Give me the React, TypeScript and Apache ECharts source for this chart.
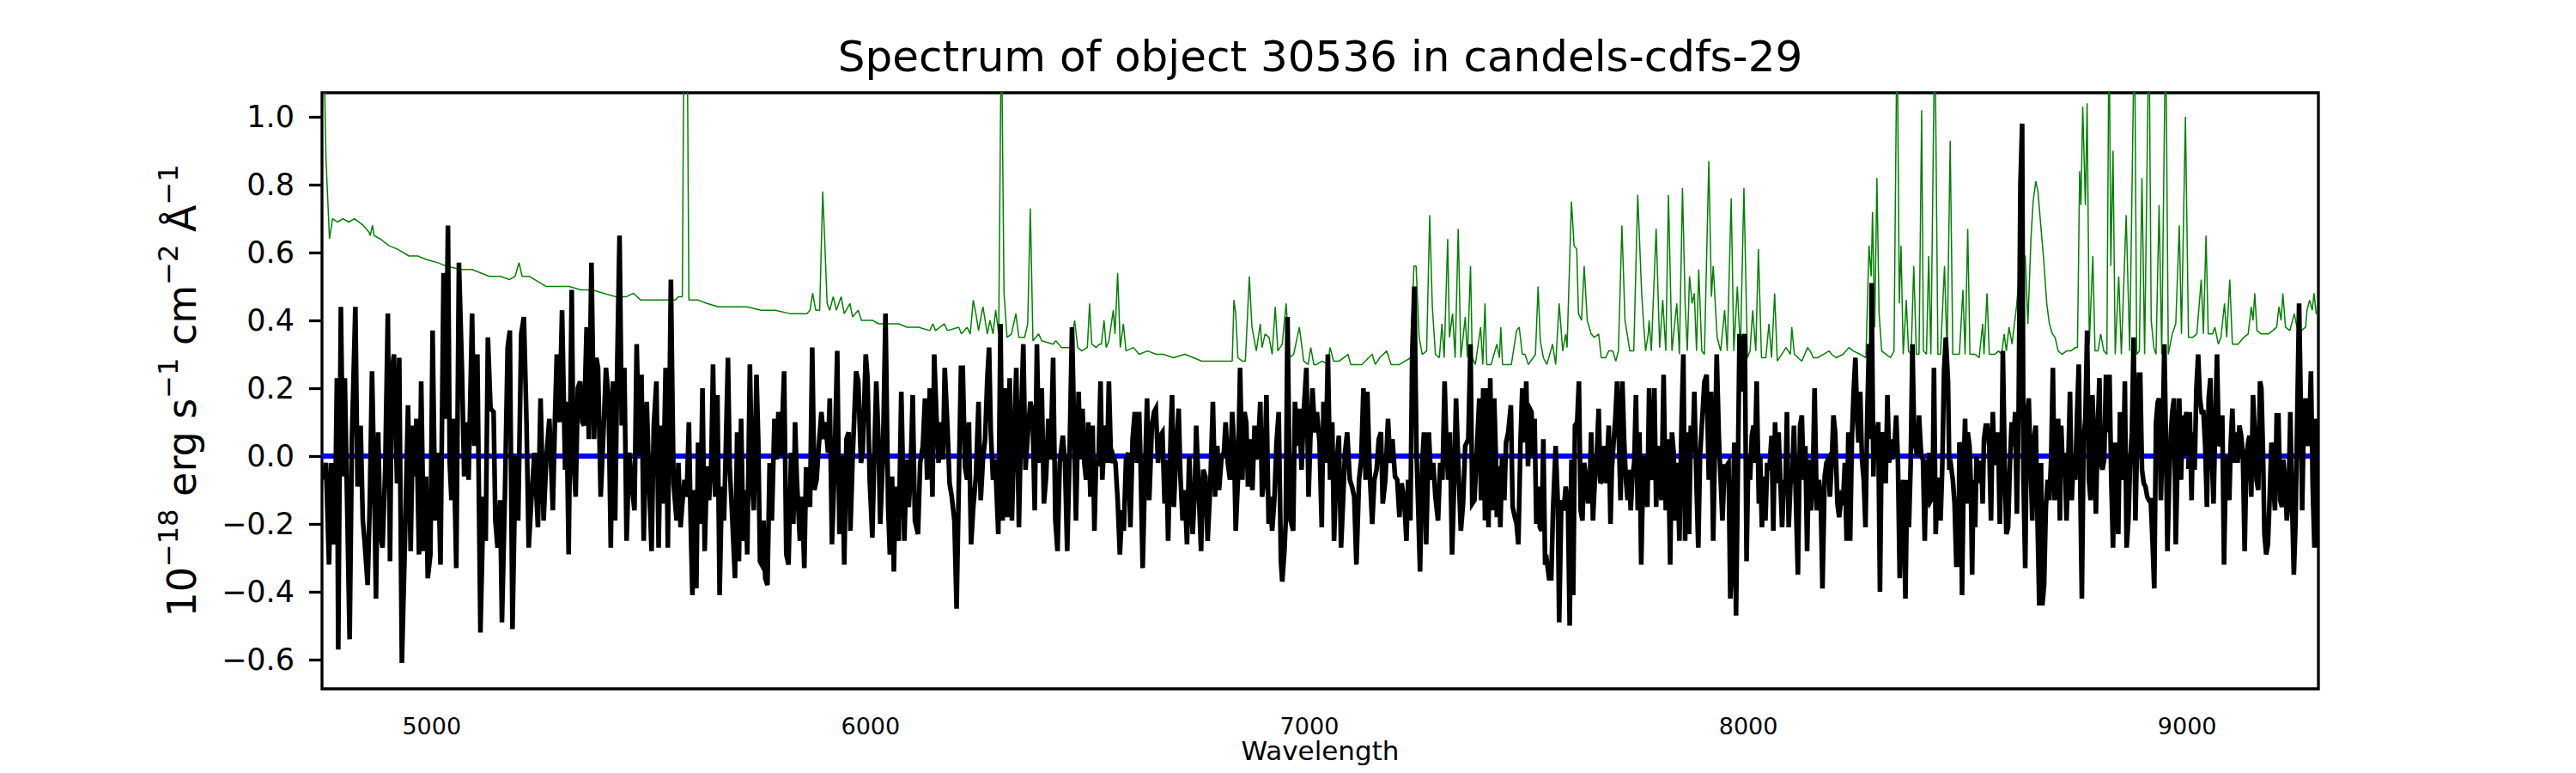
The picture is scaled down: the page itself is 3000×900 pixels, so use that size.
import React, { useEffect, useRef } from "react";
import * as echarts from "echarts";

const FONT = "DejaVu Sans";
const TITLE = "Spectrum of object 30536 in candels-cdfs-29";
const X_LABEL = "Wavelength";
const Y_LABEL_RICH = "{n|10}{s|−18}{n| erg s}{s|−1}{n| cm}{s|−2}{n| Å}{s|−1}";
const X_MIN = 4750;
const X_MAX = 9299;
const Y_MIN = -0.686;
const Y_MAX = 1.071;
const xTicks = [5000, 6000, 7000, 8000, 9000];
const yTicks = [-0.6, -0.4, -0.2, 0.0, 0.2, 0.4, 0.6, 0.8, 1.0];

// object flux (black), wavelength / flux pairs
const fluxA = [[4753,-0.07],[4759,-0.02],[4766,-0.32],[4771,-0.02],[4776,-0.26],[4780,-0.16],[4784,0.23],[4787,-0.57],[4793,0.44],[4798,-0.06],[4802,0.23],[4808,-0.19],[4813,-0.54],[4818,0.04],[4826,0.44],[4831,-0.09],[4838,0.09],[4843,-0.19],[4847,-0.25],[4854,-0.38],[4859,-0.13],[4864,0.25],[4869,-0.08],[4873,-0.42],[4878,0.07],[4883,-0.23],[4888,-0.27],[4894,-0.04],[4900,0.42],[4905,-0.31],[4909,0.25],[4914,0.30],[4921,-0.08],[4926,0.29],[4932,-0.61],[4939,-0.25],[4946,0.15],[4952,-0.28],[4957,0.09],[4961,-0.06],[4965,0.11],[4971,-0.29],[4976,0.22],[4982,-0.28],[4987,-0.06],[4991,-0.36],[4997,-0.29],[5002,0.37],[5008,-0.19],[5014,0.01],[5020,-0.32],[5027,0.54],[5032,0.11],[5037,0.68],[5041,-0.02],[5045,-0.13],[5049,0.11],[5056,-0.33],[5062,0.57],[5069,0.25],[5074,-0.06],[5079,0.10],[5084,-0.07],[5092,0.42],[5097,0.03],[5104,0.30],[5111,-0.52],[5118,-0.12],[5123,-0.25],[5128,0.35],[5134,0.14],[5141,0.13],[5145,-0.19],[5150,-0.27],[5156,-0.13],[5160,-0.49],[5167,-0.10],[5173,0.32],[5178,0.37],[5184,-0.51],[5191,0.00],[5197,-0.19],[5204,0.36],[5210,0.41],[5216,0.10],[5221,-0.27],[5227,-0.13],[5234,0.01],[5242,-0.21],[5248,0.17],[5255,-0.19],[5261,-0.01],[5268,0.11],[5276,-0.16],[5281,0.12],[5285,0.30],[5291,0.10],[5297,0.43],[5304,-0.04],[5307,0.16],[5312,-0.29],[5319,0.49],[5323,-0.01],[5328,-0.12],[5333,0.20],[5338,0.22],[5343,0.10],[5347,0.09],[5353,0.38],[5358,0.05],[5364,0.57],[5370,0.05],[5375,0.29],[5379,0.26],[5385,-0.12],[5392,0.09],[5397,0.26],[5403,0.17],[5408,-0.27],[5413,0.22],[5418,-0.19],[5423,0.29],[5428,0.65],[5433,0.09],[5439,0.26],[5444,-0.25],[5450,0.01],[5457,-0.10],[5462,-0.16],[5467,0.33],[5473,0.00],[5478,0.24],[5483,-0.25],[5490,0.16],[5496,-0.10],[5501,-0.28],[5506,0.09],[5512,0.22],[5517,-0.27],[5522,0.09],[5527,-0.14],[5533,0.26],[5538,-0.27],[5545,0.52],[5551,-0.08],[5558,-0.19]];
const fluxB = [[5562,-0.02],[5567,-0.21],[5571,-0.14],[5576,-0.07],[5581,-0.12],[5586,0.10],[5590,-0.19],[5594,-0.41],[5599,-0.10],[5603,-0.39],[5607,0.04],[5612,-0.20],[5617,0.20],[5622,-0.28],[5627,-0.03],[5632,-0.13],[5637,-0.02],[5641,0.27],[5646,-0.12],[5651,0.18],[5656,-0.41],[5661,-0.09],[5666,-0.19],[5671,0.07],[5675,0.29],[5679,-0.03],[5684,-0.16],[5691,-0.36],[5696,0.07],[5700,-0.31],[5705,0.11],[5710,-0.25],[5715,-0.10],[5719,-0.29],[5725,0.27],[5730,-0.08],[5734,-0.16],[5740,0.24],[5744,0.05],[5748,-0.31],[5752,-0.32],[5756,-0.19],[5760,-0.36],[5765,-0.38],[5770,-0.02],[5775,-0.19],[5781,0.11],[5786,-0.01],[5790,0.13],[5796,0.00],[5803,0.25],[5808,-0.29],[5813,-0.32],[5819,0.01],[5824,-0.20],[5828,0.10],[5832,-0.07],[5839,-0.25],[5844,-0.12],[5849,-0.33],[5853,-0.04],[5858,-0.04],[5862,-0.15],[5867,0.32],[5872,-0.10],[5877,-0.07],[5882,0.03],[5888,0.13],[5893,0.05],[5897,0.10],[5903,0.01],[5907,0.17],[5912,-0.26],[5917,-0.07],[5924,0.31],[5929,-0.23],[5935,0.00],[5940,-0.32],[5945,0.05],[5950,0.07],[5954,-0.22],[5959,-0.01],[5967,0.25],[5972,0.22],[5978,-0.02],[5982,0.01],[5989,0.30],[5993,0.23],[5998,-0.07],[6004,-0.24],[6008,-0.02],[6013,0.22],[6018,0.05],[6022,-0.20],[6028,-0.01],[6034,0.42],[6040,-0.15],[6044,-0.29],[6049,-0.06],[6053,-0.34],[6057,-0.09],[6064,-0.25],[6070,0.19],[6077,-0.25],[6082,-0.01],[6087,-0.15],[6091,-0.06],[6096,0.18],[6101,-0.19],[6108,-0.23],[6113,-0.02],[6119,0.03],[6124,0.17],[6129,-0.07],[6135,0.20],[6141,-0.12],[6145,0.30],[6150,0.12],[6155,-0.02],[6160,0.10],[6165,-0.01],[6169,0.26],[6175,0.09],[6180,-0.08],[6185,-0.12],[6191,-0.19],[6196,-0.45],[6202,-0.01],[6206,0.26],[6210,0.26],[6215,-0.03],[6220,-0.07],[6224,0.10],[6229,-0.26],[6234,-0.15],[6240,-0.06],[6246,0.16],[6251,-0.13],[6256,-0.01],[6261,0.05],[6266,0.23],[6270,0.32],[6274,0.07],[6279,-0.07],[6284,-0.01],[6291,-0.23],[6296,0.39],[6301,-0.19],[6306,0.20],[6311,-0.18],[6317,0.23],[6322,-0.19],[6327,0.05],[6332,0.26],[6338,-0.21],[6343,0.11],[6348,0.33],[6353,-0.04],[6358,0.06],[6364,0.16],[6369,0.13],[6374,-0.16],[6379,0.33],[6384,-0.02],[6390,0.20],[6395,-0.14],[6400,-0.06],[6405,0.11],[6410,-0.01],[6416,0.29],[6421,-0.19],[6426,-0.28],[6431,-0.02],[6438,0.06],[6443,-0.02],[6448,-0.28],[6453,-0.02],[6459,0.38]];
const fluxC = [[6468,-0.19],[6474,0.19],[6478,-0.01],[6483,0.14],[6487,-0.02],[6491,-0.07],[6496,0.10],[6501,-0.12],[6506,0.09],[6510,-0.22],[6514,-0.01],[6519,-0.03],[6524,0.22],[6528,-0.07],[6534,0.09],[6539,-0.02],[6543,0.22],[6548,-0.02],[6553,0.00],[6558,-0.02],[6563,-0.13],[6568,-0.29],[6573,-0.16],[6577,-0.22],[6582,-0.01],[6587,0.01],[6592,-0.21],[6597,0.05],[6602,0.13],[6607,-0.02],[6612,0.13],[6615,-0.01],[6620,-0.33],[6625,-0.06],[6630,0.17],[6635,-0.13],[6641,0.09],[6646,0.13],[6650,0.14],[6655,-0.02],[6660,0.06],[6665,0.07],[6670,-0.14],[6674,-0.01],[6678,-0.25],[6684,0.07],[6687,0.18],[6691,-0.15],[6697,0.03],[6702,0.14],[6706,-0.06],[6711,-0.19],[6716,-0.10],[6721,-0.26],[6726,0.00],[6729,-0.10],[6734,-0.23],[6739,-0.09],[6742,0.09],[6747,-0.08],[6753,-0.28],[6758,-0.04],[6763,-0.06],[6768,-0.25],[6774,-0.09],[6780,0.16],[6785,-0.12],[6790,0.03],[6794,-0.10],[6800,0.00],[6805,0.01],[6809,0.10],[6814,-0.02],[6819,-0.07],[6824,0.13],[6828,0.04],[6832,-0.22],[6837,-0.07],[6842,0.26],[6847,-0.07],[6852,0.13],[6856,0.10],[6860,-0.09],[6865,0.05],[6870,-0.10],[6875,0.09],[6879,-0.01],[6884,0.05],[6888,0.16],[6892,-0.12],[6897,-0.07],[6902,0.18],[6907,-0.20],[6910,-0.12],[6915,-0.22],[6920,-0.13],[6925,0.04],[6930,0.13],[6935,-0.31],[6938,-0.37],[6943,-0.28],[6946,-0.19],[6950,0.41],[6954,0.01],[6957,-0.19],[6963,-0.22],[6967,0.16],[6972,0.03],[6977,0.14],[6982,-0.04],[6987,0.13],[6993,0.26],[6998,-0.12],[7002,0.05],[7007,0.20],[7012,0.07],[7017,0.13],[7023,0.04],[7028,-0.21],[7032,0.16],[7037,-0.02],[7042,0.30],[7047,-0.07],[7052,0.10],[7056,-0.25],[7062,-0.02],[7067,0.06],[7072,-0.27],[7076,-0.15],[7081,0.01],[7086,0.07],[7092,-0.07],[7097,-0.09],[7102,-0.12],[7107,-0.32],[7113,-0.07],[7118,-0.01],[7123,0.20],[7128,-0.07],[7132,0.19],[7137,-0.04],[7143,-0.20],[7148,-0.07],[7153,-0.04],[7158,0.05],[7163,0.07],[7167,-0.14],[7173,-0.07],[7179,0.11],[7184,-0.02],[7189,0.05],[7195,-0.06],[7200,-0.07],[7205,-0.18],[7210,-0.08],[7216,-0.13],[7221,-0.25],[7225,-0.07],[7230,-0.19],[7234,0.29],[7239,0.50],[7244,0.01],[7248,-0.16],[7252,-0.34],[7257,-0.02],[7261,0.07],[7266,-0.26],[7272,0.07],[7277,-0.07],[7282,-0.02],[7287,-0.12],[7293,-0.19],[7298,-0.02],[7303,-0.07],[7308,0.22],[7312,0.04],[7316,-0.07],[7320,0.07],[7325,-0.29],[7330,-0.07],[7334,0.17],[7339,-0.02],[7345,-0.22],[7350,-0.14],[7355,0.03],[7362,0.05],[7367,0.33],[7371,-0.14],[7376,-0.13]];
const fluxD = [[7387,0.17],[7391,-0.13],[7396,0.20],[7400,-0.19],[7404,0.20],[7408,-0.21],[7412,0.23],[7416,-0.16],[7421,0.17],[7425,-0.01],[7427,-0.18],[7431,-0.03],[7435,-0.21],[7439,0.00],[7444,-0.13],[7448,0.04],[7453,0.07],[7459,0.15],[7463,-0.15],[7468,-0.18],[7472,-0.20],[7476,-0.26],[7481,0.05],[7485,0.20],[7490,0.04],[7494,0.22],[7498,-0.03],[7502,0.14],[7506,0.13],[7509,0.00],[7513,0.11],[7517,-0.20],[7522,-0.09],[7525,-0.21],[7529,-0.22],[7533,0.05],[7537,-0.32],[7541,-0.31],[7546,-0.36],[7551,-0.36],[7555,-0.16],[7561,0.03],[7566,-0.14],[7569,-0.49],[7574,-0.13],[7579,-0.16],[7584,-0.09],[7589,-0.14],[7593,-0.50],[7597,-0.01],[7601,-0.41],[7605,0.09],[7610,0.10],[7614,0.22],[7618,-0.16],[7622,-0.19],[7626,-0.02],[7631,-0.07],[7635,-0.14],[7639,-0.07],[7642,0.07],[7646,-0.19],[7650,-0.08],[7654,-0.02],[7659,0.14],[7663,-0.08],[7667,-0.07],[7672,0.03],[7676,-0.08],[7682,0.09],[7686,-0.20],[7689,-0.04],[7693,0.04],[7697,0.11],[7701,0.22],[7705,0.05],[7709,-0.13],[7713,0.22],[7717,0.05],[7721,-0.07],[7725,-0.13],[7729,-0.04],[7732,-0.16],[7736,-0.06],[7740,-0.02],[7744,0.18],[7748,-0.16],[7752,0.07],[7756,-0.32],[7761,0.00],[7766,-0.07],[7770,-0.15],[7774,0.20],[7778,-0.04],[7782,-0.07],[7786,0.20],[7790,-0.15],[7794,0.03],[7798,-0.07],[7802,-0.13],[7807,0.24],[7812,-0.16],[7817,0.05],[7822,-0.32],[7826,0.07],[7830,0.01],[7834,-0.19],[7838,-0.02],[7843,-0.25],[7848,0.11],[7852,0.30],[7856,-0.25],[7861,0.07],[7865,-0.23],[7869,0.09],[7873,0.01],[7877,0.19],[7882,-0.09],[7886,-0.27],[7890,0.00],[7895,0.11],[7900,0.22],[7905,0.24],[7910,-0.07],[7915,0.19],[7920,-0.25],[7924,0.03],[7928,0.30],[7933,0.05],[7937,-0.07],[7941,-0.19],[7946,-0.03],[7950,-0.03],[7955,-0.02],[7959,-0.42],[7963,-0.31],[7968,0.04],[7972,-0.47],[7976,-0.07],[7980,0.36],[7985,0.19],[7988,0.32],[7992,0.36],[7996,-0.31],[8000,0.00],[8004,-0.07],[8008,0.06],[8012,0.09],[8015,-0.02],[8019,0.22],[8024,-0.14],[8027,0.00],[8031,-0.21],[8035,-0.06],[8039,-0.19],[8043,-0.02],[8048,-0.04],[8053,0.06],[8057,-0.22],[8061,0.10],[8065,-0.08],[8069,0.07],[8073,-0.07],[8077,-0.21],[8081,-0.08],[8085,-0.07],[8088,0.13],[8092,-0.21],[8096,-0.08],[8100,-0.07],[8104,0.09],[8109,-0.16],[8113,-0.35],[8118,0.09],[8122,0.12],[8126,-0.07],[8130,0.03],[8134,-0.28],[8138,-0.01],[8143,-0.16],[8147,-0.07],[8151,0.20],[8156,-0.16],[8161,-0.07],[8165,-0.12],[8169,-0.39],[8174,-0.06],[8178,-0.02],[8182,-0.01],[8186,-0.12],[8190,-0.02],[8194,0.12],[8198,0.07],[8203,-0.14],[8207,-0.18],[8212,-0.12],[8216,-0.13],[8220,-0.02],[8224,-0.25],[8228,0.07],[8232,-0.25],[8236,0.05],[8240,0.19],[8244,0.29],[8248,0.11],[8251,0.04],[8255,0.19],[8259,-0.01],[8263,-0.07],[8267,-0.21],[8271,0.12],[8275,0.33],[8279,0.05],[8281,0.51],[8285,-0.06],[8288,0.09],[8292,0.03],[8296,0.10],[8300,-0.40],[8304,0.07],[8308,0.05],[8313,-0.08],[8317,0.18],[8321,-0.02],[8324,0.05],[8328,-0.01],[8334,0.05],[8337,0.12],[8341,-0.02],[8345,-0.36],[8349,-0.12],[8353,-0.07],[8358,-0.42],[8362,-0.07],[8366,-0.21],[8370,-0.02],[8374,0.33],[8378,0.05]];
const fluxE = [[8385,0.00],[8389,0.12],[8394,0.00],[8398,-0.01],[8402,-0.25],[8406,-0.01],[8409,-0.15],[8412,0.01],[8416,-0.13],[8420,-0.12],[8423,0.26],[8427,-0.23],[8431,-0.07],[8434,-0.07],[8438,-0.19],[8442,-0.03],[8446,0.25],[8450,0.35],[8455,0.22],[8458,-0.04],[8462,-0.03],[8466,-0.07],[8470,-0.14],[8474,-0.32],[8479,-0.32],[8481,0.04],[8484,0.03],[8487,-0.41],[8491,-0.02],[8494,0.11],[8497,-0.14],[8500,0.07],[8504,0.03],[8507,-0.08],[8510,-0.35],[8513,-0.07],[8517,-0.21],[8520,0.00],[8523,-0.08],[8527,-0.02],[8531,-0.02],[8534,-0.14],[8537,0.05],[8541,0.09],[8545,0.09],[8549,0.03],[8553,-0.19],[8557,0.13],[8561,-0.02],[8565,-0.02],[8569,0.07],[8573,-0.20],[8577,-0.02],[8580,0.31],[8584,-0.01],[8588,-0.23],[8592,-0.21],[8596,-0.03],[8600,0.10],[8604,0.03],[8608,0.13],[8612,-0.17],[8616,0.14],[8620,0.80],[8624,0.98],[8627,-0.07],[8631,-0.33],[8635,0.12],[8639,0.17],[8643,-0.01],[8647,-0.19],[8651,0.05],[8655,0.09],[8659,-0.19],[8663,-0.44],[8667,-0.02],[8670,-0.44],[8674,-0.38],[8678,-0.15],[8682,-0.07],[8686,-0.13],[8690,-0.01],[8694,0.26],[8698,-0.13],[8702,-0.07],[8706,0.11],[8710,-0.19],[8713,0.09],[8717,-0.06],[8721,0.01],[8725,-0.19],[8729,-0.02],[8733,0.19],[8737,-0.13],[8741,-0.01],[8745,-0.07],[8749,0.12],[8753,0.27],[8757,-0.14],[8760,-0.42],[8764,0.05],[8768,0.11],[8772,0.37],[8776,-0.07],[8780,-0.13],[8784,0.18],[8788,0.05],[8792,-0.17],[8796,0.07],[8800,0.23],[8803,-0.02],[8807,-0.04],[8811,-0.01],[8815,0.24],[8819,0.07],[8823,0.24],[8827,-0.07],[8831,-0.27],[8835,0.04],[8839,-0.14],[8843,-0.23],[8847,0.13],[8850,-0.02],[8854,-0.07],[8858,0.22],[8862,-0.27],[8866,-0.19],[8870,-0.02],[8874,0.07],[8878,0.35],[8882,-0.19],[8886,0.05],[8890,0.24],[8893,0.24],[8897,-0.04],[8901,-0.08],[8905,-0.09],[8909,-0.12],[8913,-0.13],[8917,-0.13],[8921,-0.25],[8925,-0.39],[8929,0.10],[8933,0.16],[8936,0.17],[8940,-0.13],[8944,0.05],[8948,0.33],[8952,0.01],[8955,-0.28],[8959,-0.07],[8963,0.07],[8966,0.13],[8970,0.17],[8974,-0.26],[8978,-0.02],[8982,0.17],[8986,-0.07],[8990,0.12],[8994,0.00],[8998,0.13],[9002,0.00],[9006,0.13],[9010,-0.13],[9013,0.07],[9017,-0.04],[9021,0.20],[9025,0.30],[9029,0.17],[9033,0.13],[9037,0.13],[9041,0.03],[9045,-0.15],[9049,0.17],[9053,0.23],[9056,0.01],[9060,-0.14],[9064,0.09],[9068,0.30],[9072,0.03],[9076,0.04],[9080,0.12],[9084,-0.32],[9088,-0.02],[9092,-0.01],[9096,-0.13],[9099,0.03],[9103,0.14],[9107,-0.02],[9111,0.07],[9115,-0.02],[9119,0.09],[9123,0.06],[9127,0.00],[9131,-0.28],[9135,0.00],[9139,0.04],[9142,0.06],[9146,-0.12],[9150,0.18],[9154,0.07],[9158,-0.07],[9162,-0.10],[9166,0.22],[9169,0.20],[9173,0.00],[9176,-0.23],[9180,-0.29],[9184,-0.26],[9188,-0.12],[9192,0.04],[9196,-0.07],[9200,-0.16],[9204,0.12],[9208,0.12],[9212,-0.13],[9216,-0.15],[9219,-0.01],[9223,-0.07],[9227,-0.19],[9231,-0.13],[9235,0.13],[9239,-0.13],[9243,-0.35],[9247,-0.19],[9251,0.13],[9255,0.45],[9259,0.14],[9262,-0.16],[9266,0.13],[9270,0.17],[9274,0.03],[9278,0.07],[9282,0.25],[9286,-0.09],[9290,-0.27],[9294,0.11],[9296,-0.27]];

// sky spectrum (green), wavelength / flux pairs; off-scale lines estimated at 1.3
const skyA = [[4753,1.3],[4759,0.88],[4767,0.64],[4774,0.70],[4785,0.69],[4798,0.70],[4811,0.69],[4824,0.70],[4844,0.68],[4857,0.66],[4860,0.65],[4865,0.68],[4869,0.65],[4883,0.64],[4903,0.62],[4922,0.61],[4948,0.59],[4968,0.59],[4987,0.58],[5014,0.57],[5033,0.56],[5066,0.55],[5092,0.55],[5131,0.53],[5157,0.53],[5177,0.52],[5190,0.53],[5199,0.57],[5206,0.53],[5222,0.53],[5248,0.51],[5261,0.50],[5281,0.50],[5313,0.50],[5340,0.49],[5366,0.49],[5392,0.48],[5418,0.47],[5444,0.47],[5460,0.48],[5476,0.46],[5509,0.46],[5535,0.46],[5555,0.46]];
const skyB = [[5562,0.47],[5571,0.47],[5575,1.3],[5582,1.3],[5586,0.46],[5594,0.46],[5607,0.46],[5627,0.45],[5653,0.44],[5692,0.44],[5718,0.44],[5751,0.43],[5783,0.43],[5816,0.42],[5855,0.42],[5862,0.43],[5868,0.48],[5875,0.43],[5884,0.43],[5891,0.78],[5895,0.65],[5901,0.45],[5907,0.43],[5915,0.47],[5922,0.43],[5933,0.47],[5940,0.42],[5953,0.45],[5959,0.41],[5972,0.43],[5979,0.40],[6005,0.40],[6018,0.39],[6044,0.39],[6064,0.39],[6083,0.38],[6109,0.38],[6135,0.37],[6142,0.39],[6148,0.37],[6168,0.39],[6175,0.37],[6201,0.38],[6207,0.36],[6220,0.38],[6227,0.36],[6234,0.46],[6240,0.42],[6246,0.37],[6256,0.44],[6266,0.36],[6272,0.40],[6279,0.36],[6285,0.43],[6292,0.36],[6298,1.3],[6304,0.48],[6311,0.35],[6321,0.36],[6331,0.42],[6338,0.35],[6351,0.35],[6358,0.39],[6364,0.73],[6370,0.34],[6383,0.36],[6390,0.34],[6416,0.33],[6422,0.34],[6435,0.32]];
const skyC = [[6455,0.32],[6465,0.40],[6472,0.32],[6481,0.31],[6494,0.32],[6499,0.45],[6504,0.33],[6514,0.32],[6521,0.33],[6526,0.33],[6532,0.40],[6537,0.32],[6543,0.34],[6553,0.43],[6557,0.36],[6563,0.54],[6569,0.32],[6576,0.39],[6582,0.31],[6599,0.32],[6612,0.30],[6631,0.31],[6651,0.30],[6667,0.30],[6690,0.29],[6716,0.30],[6736,0.29],[6755,0.28],[6781,0.28],[6807,0.28],[6824,0.28],[6828,0.46],[6832,0.42],[6837,0.29],[6847,0.28],[6854,0.28],[6863,0.53],[6869,0.38],[6879,0.31],[6888,0.39],[6892,0.32],[6899,0.36],[6908,0.35],[6915,0.30],[6922,0.44],[6928,0.31],[6938,0.33],[6947,0.45],[6954,0.29],[6964,0.30],[6977,0.38],[6987,0.28],[6997,0.27],[7003,0.32],[7010,0.27],[7016,0.27],[7029,0.28],[7042,0.27],[7047,0.32],[7055,0.28],[7068,0.28],[7088,0.30],[7094,0.27],[7120,0.27],[7127,0.28],[7143,0.30],[7150,0.27],[7160,0.29],[7176,0.31],[7186,0.27],[7205,0.27],[7218,0.28],[7231,0.29],[7238,0.56],[7243,0.56],[7250,0.35],[7257,0.30],[7267,0.31],[7274,0.71],[7280,0.44],[7287,0.30],[7296,0.29],[7302,0.39],[7307,0.29],[7315,0.64],[7319,0.35],[7326,0.42],[7332,0.29],[7339,0.67],[7345,0.29],[7355,0.41],[7360,0.29],[7367,0.56],[7371,0.29]];
const skyD = [[7378,0.27],[7390,0.38],[7395,0.27],[7400,0.45],[7404,0.27],[7414,0.27],[7427,0.33],[7433,0.29],[7436,0.38],[7440,0.27],[7460,0.27],[7466,0.32],[7472,0.37],[7478,0.38],[7485,0.30],[7491,0.30],[7499,0.27],[7515,0.30],[7521,0.50],[7526,0.34],[7533,0.29],[7541,0.27],[7554,0.33],[7561,0.27],[7569,0.45],[7577,0.31],[7584,0.36],[7587,0.32],[7597,0.75],[7603,0.62],[7609,0.61],[7613,0.42],[7620,0.40],[7626,0.56],[7633,0.40],[7642,0.36],[7649,0.35],[7659,0.36],[7665,0.29],[7675,0.29],[7682,0.31],[7691,0.31],[7698,0.28],[7704,0.31],[7712,0.68],[7719,0.40],[7724,0.36],[7730,0.31],[7739,0.31],[7748,0.77],[7757,0.48],[7762,0.38],[7766,0.31],[7772,0.36],[7774,0.40],[7779,0.31],[7790,0.67],[7798,0.32],[7805,0.46],[7812,0.31],[7818,0.77],[7826,0.31],[7837,0.45],[7843,0.30],[7850,0.79],[7856,0.45],[7861,0.31],[7866,0.53],[7872,0.45],[7877,0.48],[7882,0.31],[7887,0.55],[7894,0.31],[7900,0.30],[7910,0.87],[7916,0.47],[7920,0.56],[7929,0.35],[7937,0.31],[7946,0.43],[7952,0.31],[7961,0.76],[7967,0.31],[7975,0.50],[7982,0.31],[7990,0.79],[7998,0.29],[8004,0.31],[8010,0.43],[8017,0.31],[8023,0.61],[8030,0.29],[8040,0.29],[8047,0.39],[8053,0.29],[8060,0.48],[8066,0.28],[8076,0.30],[8086,0.32],[8096,0.30],[8099,0.38],[8105,0.30],[8122,0.28],[8135,0.32],[8141,0.31],[8148,0.29],[8158,0.29],[8171,0.30],[8184,0.31],[8190,0.30],[8200,0.29],[8216,0.30],[8229,0.32],[8239,0.31],[8255,0.30],[8268,0.29],[8275,0.62],[8280,0.53],[8283,0.72],[8288,0.38],[8293,0.82],[8298,0.42],[8304,0.31],[8314,0.30],[8324,0.29],[8332,0.31],[8339,1.3],[8344,0.45],[8348,0.62],[8353,0.30],[8360,0.46],[8365,0.31],[8371,0.30],[8377,0.56]];
const skyE = [[8383,0.30],[8389,0.30],[8395,1.02],[8399,0.31],[8406,0.30],[8411,0.59],[8416,0.30],[8425,1.3],[8432,0.30],[8438,0.30],[8447,0.56],[8453,0.30],[8460,0.93],[8466,0.30],[8474,0.30],[8481,0.30],[8489,0.49],[8494,0.30],[8500,0.67],[8505,0.30],[8517,0.30],[8526,0.29],[8534,0.39],[8537,0.30],[8544,0.48],[8549,0.30],[8562,0.30],[8570,0.31],[8577,0.30],[8583,0.36],[8588,0.31],[8594,0.38],[8601,0.33],[8611,0.44],[8621,0.59],[8631,0.59],[8637,0.39],[8644,0.64],[8649,0.75],[8655,0.81],[8660,0.78],[8667,0.67],[8673,0.58],[8680,0.45],[8686,0.39],[8693,0.36],[8699,0.35],[8706,0.31],[8715,0.30],[8725,0.31],[8735,0.31],[8745,0.32],[8750,0.32],[8755,0.84],[8758,0.74],[8762,1.03],[8768,0.74],[8772,1.04],[8777,0.33],[8785,0.59],[8790,0.31],[8797,0.31],[8803,0.36],[8810,0.31],[8817,0.30],[8822,1.3],[8826,0.56],[8831,0.90],[8836,0.30],[8844,0.53],[8850,0.30],[8861,0.71],[8869,0.31],[8880,1.3],[8885,0.30],[8891,0.31],[8897,0.82],[8903,0.30],[8913,1.3],[8918,0.40],[8924,0.32],[8929,0.30],[8936,0.74],[8942,0.30],[8951,1.3],[8957,0.30],[8966,0.36],[8974,0.39],[8982,0.68],[8987,0.36],[8996,1.00],[9003,0.35],[9012,0.35],[9022,0.36],[9032,0.52],[9037,0.36],[9043,0.65],[9048,0.36],[9058,0.36],[9063,0.38],[9071,0.33],[9077,0.35],[9085,0.45],[9090,0.35],[9097,0.52],[9103,0.33],[9116,0.33],[9129,0.35],[9139,0.36],[9146,0.44],[9150,0.40],[9154,0.48],[9159,0.37],[9169,0.36],[9185,0.36],[9195,0.37],[9204,0.38],[9209,0.44],[9214,0.40],[9218,0.48],[9224,0.38],[9234,0.37],[9244,0.42],[9250,0.38],[9260,0.37],[9270,0.38],[9273,0.43],[9279,0.46],[9285,0.43],[9289,0.48],[9294,0.42],[9297,0.42]];

// zero reference (blue)
const zeroWave = [4750, 9283];
const zeroFlux = [0, 0];

const fmtY = (v: number) => (v < 0 ? "\u2212" : "") + Math.abs(v).toFixed(1);

export default function App() {
  const ref = useRef<HTMLDivElement>(null);

  useEffect(() => {
    if (!ref.current) return;
    const chart = echarts.init(ref.current, null, { renderer: "svg" });
    const flux = [...fluxA, ...fluxB, ...fluxC, ...fluxD, ...fluxE];
    const sky = [...skyA, ...skyB, ...skyC, ...skyD, ...skyE];
    const zero = zeroWave.map((w, i) => [w, zeroFlux[i]]);

    chart.setOption({
      animation: false,
      backgroundColor: "#ffffff",
      textStyle: { fontFamily: FONT },
      grid: {
        left: 375,
        right: 300,
        top: 108,
        bottom: 98,
        show: true,
        borderColor: "#000",
        borderWidth: 3.3,
        backgroundColor: "transparent",
        containLabel: false,
      },
      xAxis: {
        type: "value",
        min: X_MIN,
        max: X_MAX,
        axisLine: { show: false },
        splitLine: { show: false },
        axisTick: {
          show: true,
          inside: false,
          length: 15,
          lineStyle: { color: "#000", width: 3.3 },
          customValues: xTicks,
        },
        axisLabel: {
          customValues: xTicks,
          fontSize: 27,
          fontFamily: FONT,
          color: "#000",
          margin: 30,
          formatter: (v: number) => String(v),
        },
      },
      yAxis: {
        type: "value",
        min: Y_MIN,
        max: Y_MAX,
        axisLine: { show: false },
        splitLine: { show: false },
        axisTick: {
          show: true,
          inside: false,
          length: 15,
          lineStyle: { color: "#000", width: 3.3 },
          customValues: yTicks,
        },
        axisLabel: {
          customValues: yTicks,
          fontSize: 35,
          fontFamily: FONT,
          color: "#000",
          margin: 32,
          formatter: fmtY,
        },
      },
      graphic: [
        {
          type: "text",
          x: 1537.5,
          y: 66,
          silent: true,
          style: {
            text: TITLE,
            fontSize: 50,
            fontFamily: FONT,
            fill: "#000",
            align: "center",
            verticalAlign: "middle",
          },
        },
        {
          type: "text",
          x: 1537.5,
          y: 874,
          silent: true,
          style: {
            text: X_LABEL,
            fontSize: 31,
            fontFamily: FONT,
            fill: "#000",
            align: "center",
            verticalAlign: "middle",
          },
        },
        {
          type: "text",
          x: 212,
          y: 455,
          rotation: Math.PI / 2,
          silent: true,
          style: {
            text: Y_LABEL_RICH,
            align: "center",
            verticalAlign: "middle",
            rich: {
              n: { fontSize: 46, fontFamily: FONT, fill: "#000", lineHeight: 65 },
              s: { fontSize: 32, fontFamily: FONT, fill: "#000", lineHeight: 32, verticalAlign: "top" },
            },
          },
        },
      ],
      series: [
        {
          type: "line",
          data: sky,
          showSymbol: false,
          symbol: "none",
          silent: true,
          clip: true,
          z: 1,
          lineStyle: { color: "#008000", width: 1.5 },
        },
        {
          type: "line",
          data: zero,
          showSymbol: false,
          symbol: "none",
          silent: true,
          clip: true,
          z: 2,
          lineStyle: { color: "#0000ff", width: 6 },
        },
        {
          type: "line",
          data: flux,
          showSymbol: false,
          symbol: "none",
          silent: true,
          clip: true,
          z: 3,
          lineStyle: { color: "#000000", width: 5.5, join: "miter" },
        },
      ],
    });

    return () => chart.dispose();
  }, []);

  return (
    <div
      ref={ref}
      style={{ position: "absolute", left: 0, top: 0, width: 3000, height: 900, background: "#fff" }}
    />
  );
}
